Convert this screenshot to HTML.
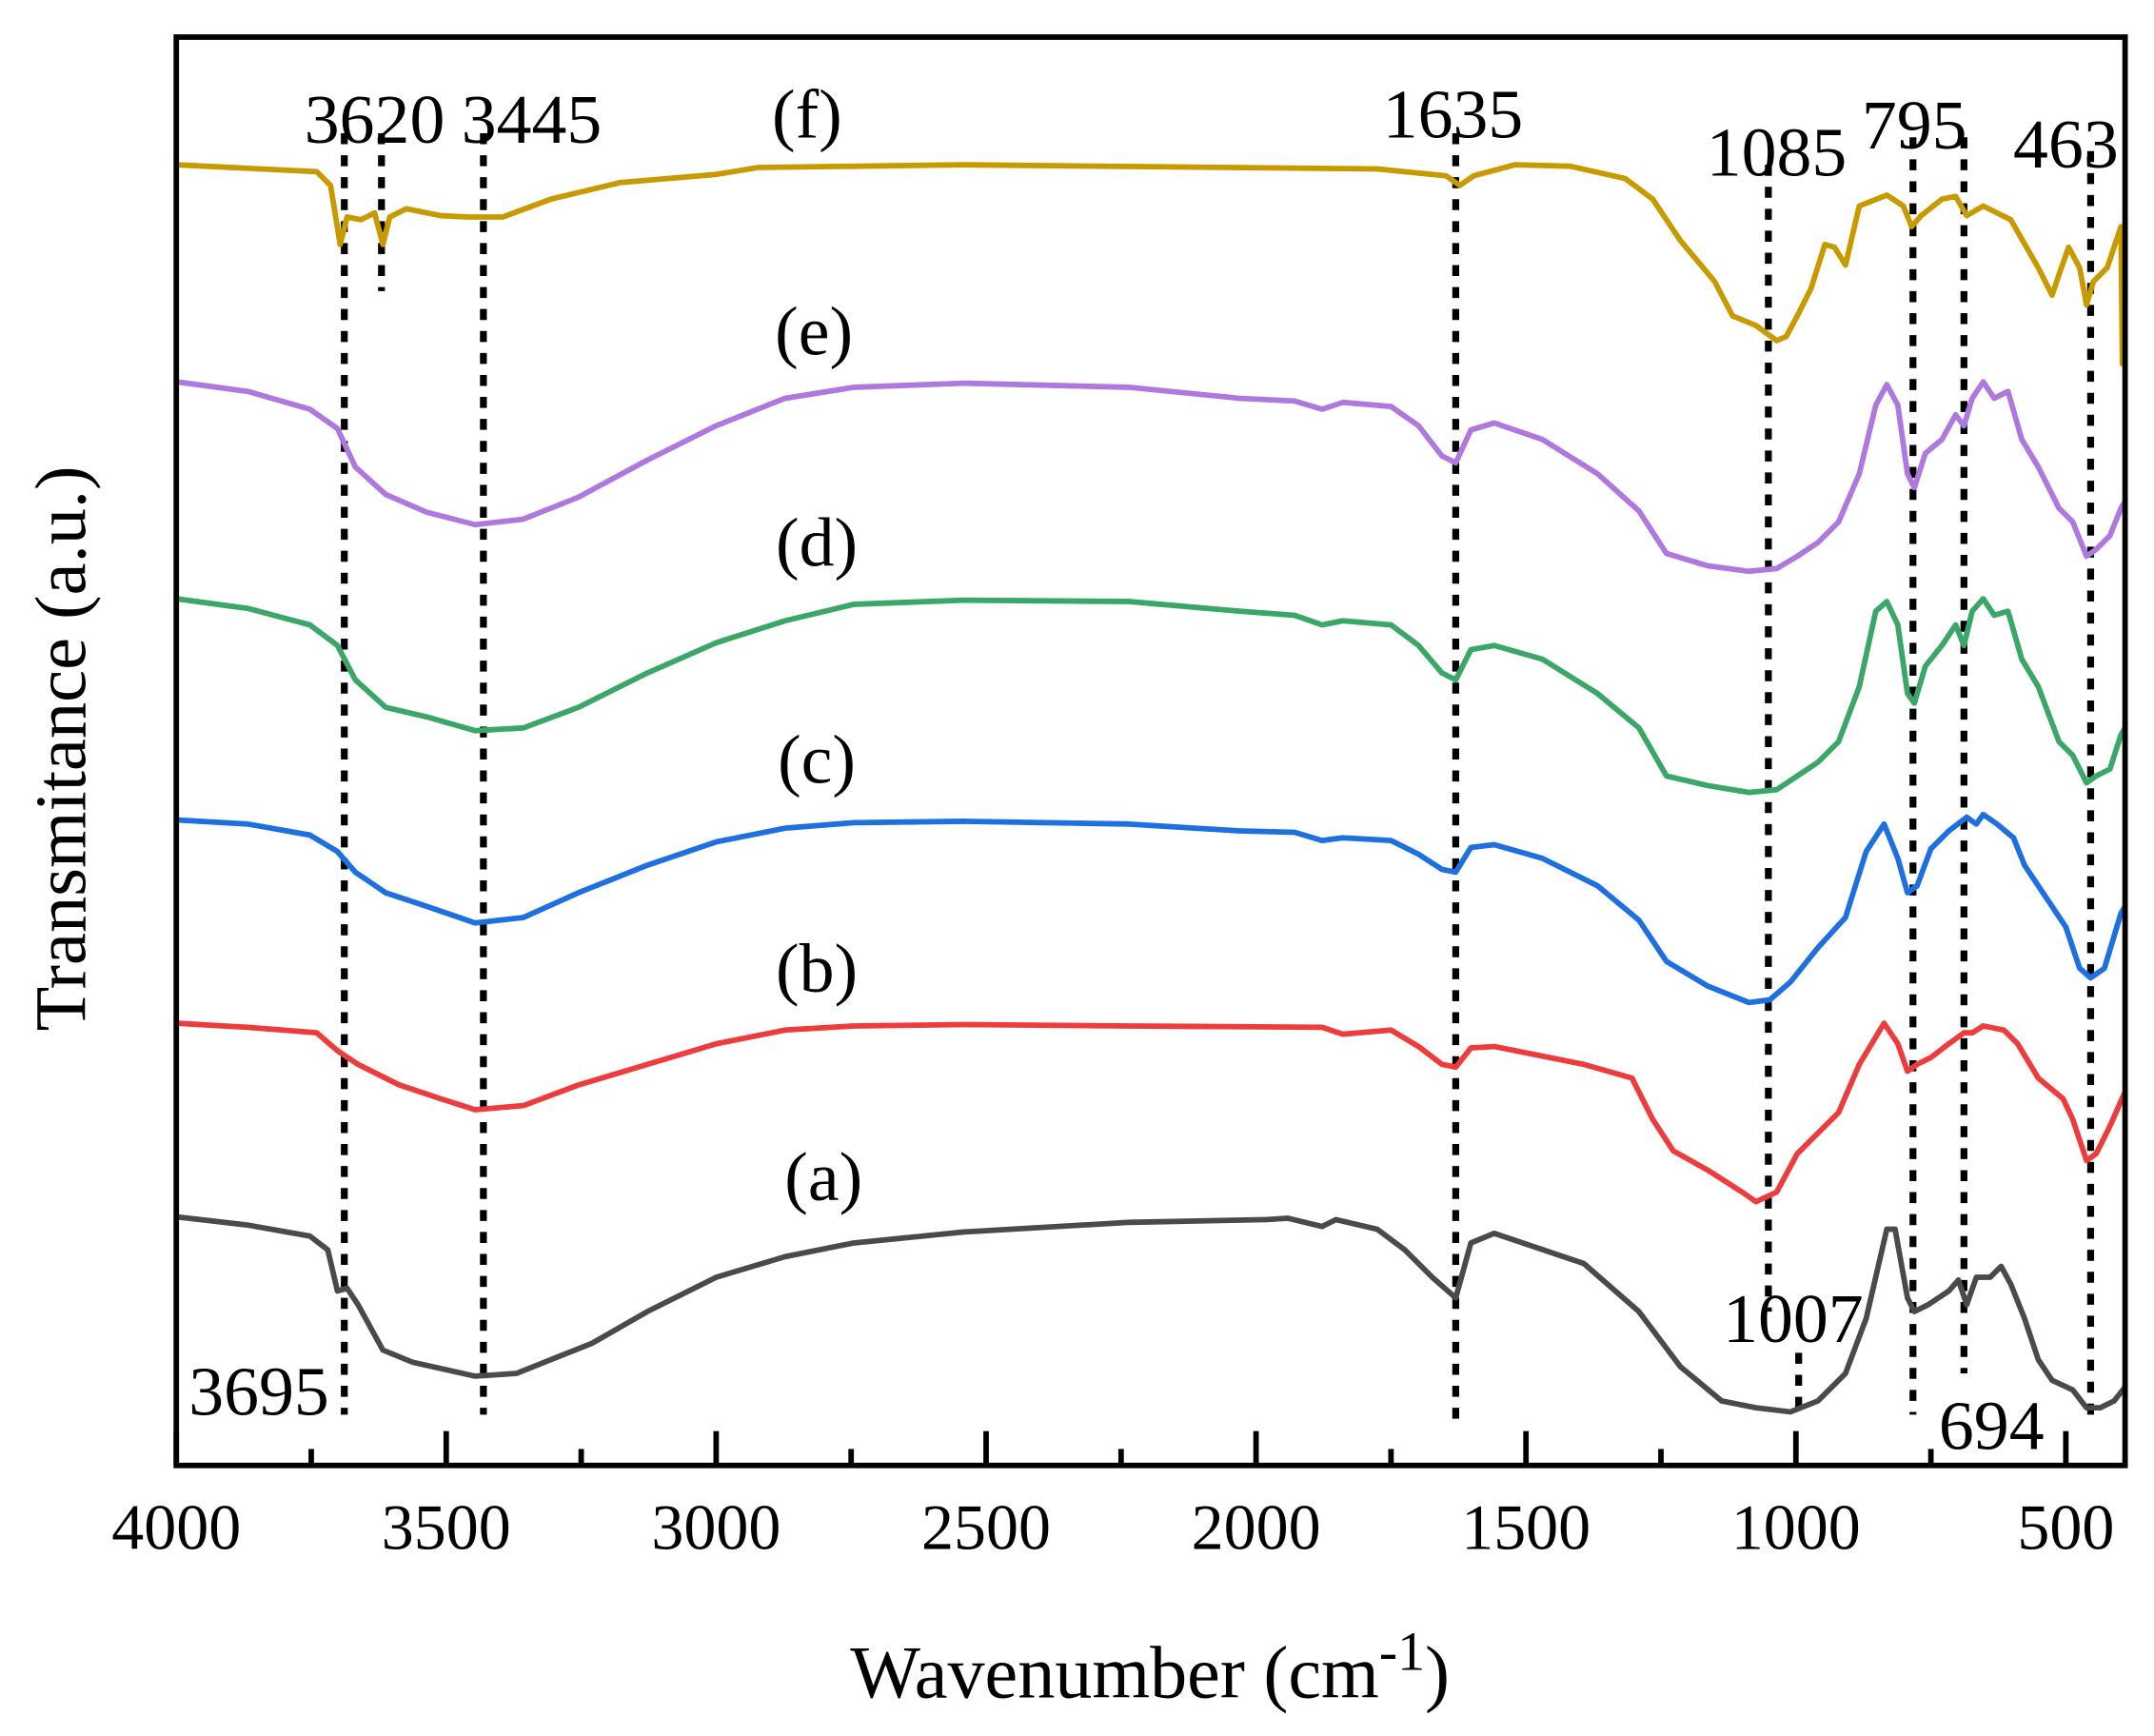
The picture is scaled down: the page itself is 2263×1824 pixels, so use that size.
<!DOCTYPE html>
<html><head><meta charset="utf-8"><style>html,body{margin:0;padding:0;background:#fff}svg{display:block}</style></head>
<body>
<svg width="2263" height="1824" viewBox="0 0 1564 1264" preserveAspectRatio="none" xmlns="http://www.w3.org/2000/svg" font-family="'Liberation Serif', serif">
<rect width="1564" height="1264" fill="#fff"/>
<g stroke="#000" stroke-width="5" stroke-dasharray="8,8" fill="none">
<line x1="250" y1="97" x2="250" y2="1030"/>
<line x1="277" y1="97" x2="277" y2="212"/>
<line x1="351" y1="97" x2="351" y2="1030"/>
<line x1="1057" y1="97" x2="1057" y2="1035"/>
<line x1="1284" y1="120" x2="1284" y2="955"/>
<line x1="1306" y1="985" x2="1306" y2="1032"/>
<line x1="1389" y1="100" x2="1389" y2="1030"/>
<line x1="1426" y1="100" x2="1426" y2="1000"/>
<line x1="1518" y1="110" x2="1518" y2="1030"/>
</g>
<g fill="none" stroke-width="4" stroke-linejoin="round" stroke-linecap="round">
<polyline stroke="#C99A00" points="128,120 230,125 240,135 247,178 252,158 262,160 272,155 278,178 283,158 295,152 320,157 340,158 365,158 400,145 450,133 520,127 550,122 700,120 1000,123 1050,128 1060,135 1070,128 1100,120 1140,121 1180,130 1200,145 1220,175 1245,205 1258,230 1275,237 1290,248 1297,245 1305,230 1315,210 1325,178 1332,180 1340,193 1350,150 1370,142 1382,150 1388,165 1395,157 1410,145 1420,143 1428,157 1440,150 1460,160 1480,195 1490,215 1495,200 1502,180 1510,195 1515,222 1520,205 1530,195 1540,165 1541,265"/>
<polyline stroke="#AE78DE" points="128,278 180,285 225,298 245,312 258,340 280,360 310,373 345,382 380,378 420,362 470,335 520,310 570,290 620,282 700,279 820,282 900,290 940,292 960,298 975,293 1010,296 1030,310 1047,332 1057,337 1068,313 1085,308 1120,320 1160,345 1190,372 1210,403 1240,412 1270,416 1290,414 1305,405 1320,395 1335,380 1350,345 1362,295 1370,280 1378,295 1385,345 1390,355 1398,330 1410,320 1420,302 1426,310 1432,290 1440,278 1448,290 1458,285 1468,320 1480,340 1495,370 1505,380 1515,405 1522,400 1532,390 1540,370 1543,365"/>
<polyline stroke="#3AA668" points="128,436 180,443 225,455 245,470 258,495 280,515 310,522 345,532 380,530 420,515 470,490 520,468 570,452 620,440 700,437 820,438 900,445 940,448 960,455 975,452 1010,455 1030,470 1047,490 1057,495 1068,473 1085,470 1120,480 1160,505 1190,530 1210,565 1240,572 1270,577 1290,575 1305,565 1320,555 1335,540 1350,500 1362,445 1370,438 1378,455 1385,505 1390,512 1398,485 1410,470 1420,455 1426,470 1432,445 1440,436 1448,448 1458,445 1468,480 1480,500 1495,540 1505,550 1515,570 1522,565 1532,560 1540,535 1543,530"/>
<polyline stroke="#1E6FE0" points="128,597 180,600 225,608 245,620 258,635 280,650 310,660 345,672 380,668 420,650 470,630 520,613 570,603 620,599 700,598 820,600 900,605 940,606 960,612 975,610 1010,612 1030,622 1047,633 1057,635 1068,617 1085,615 1120,625 1160,645 1190,670 1210,700 1240,718 1270,730 1285,728 1300,715 1320,690 1340,668 1355,620 1368,600 1378,625 1385,650 1392,645 1402,618 1415,605 1428,595 1435,600 1440,593 1450,600 1462,610 1470,630 1490,660 1500,675 1510,705 1518,712 1528,705 1540,665 1543,660"/>
<polyline stroke="#EE3B3B" points="128,745 180,748 230,752 245,765 260,775 290,790 320,800 345,808 380,805 420,790 470,775 520,760 570,750 620,747 700,746 820,747 960,748 975,753 1010,750 1030,762 1047,775 1057,777 1068,763 1085,762 1150,775 1185,785 1200,815 1215,838 1240,852 1265,868 1275,875 1290,868 1305,840 1320,825 1335,810 1350,775 1368,745 1378,760 1385,780 1392,775 1402,770 1415,760 1426,752 1432,752 1440,747 1455,750 1465,760 1480,785 1498,800 1505,815 1515,845 1522,840 1532,820 1543,795"/>
<polyline stroke="#4A4A4A" points="128,886 180,892 225,900 238,910 245,940 252,938 260,950 278,983 300,992 345,1002 375,1000 400,990 430,978 470,955 520,930 570,915 620,905 700,897 820,890 920,888 935,887 960,893 970,888 1000,895 1020,910 1040,930 1057,945 1068,905 1085,898 1150,920 1190,955 1220,995 1250,1020 1275,1025 1300,1028 1320,1020 1340,1000 1355,960 1370,895 1376,895 1385,945 1390,955 1400,950 1415,940 1422,932 1428,950 1435,930 1445,930 1453,922 1460,935 1470,960 1480,990 1490,1005 1505,1012 1515,1025 1525,1025 1535,1020 1543,1010"/>
</g>
<rect x="128" y="27" width="1415" height="1040" fill="none" stroke="#000" stroke-width="4"/>
<g stroke="#000" stroke-width="4">
<line x1="128" y1="1067" x2="128" y2="1042"/><line x1="226" y1="1067" x2="226" y2="1055"/>
<line x1="324" y1="1067" x2="324" y2="1042"/><line x1="422" y1="1067" x2="422" y2="1055"/>
<line x1="520" y1="1067" x2="520" y2="1042"/><line x1="618" y1="1067" x2="618" y2="1055"/>
<line x1="716" y1="1067" x2="716" y2="1042"/><line x1="814" y1="1067" x2="814" y2="1055"/>
<line x1="912" y1="1067" x2="912" y2="1042"/><line x1="1010" y1="1067" x2="1010" y2="1055"/>
<line x1="1108" y1="1067" x2="1108" y2="1042"/><line x1="1206" y1="1067" x2="1206" y2="1055"/>
<line x1="1304" y1="1067" x2="1304" y2="1042"/><line x1="1402" y1="1067" x2="1402" y2="1055"/>
<line x1="1500" y1="1067" x2="1500" y2="1042"/>
</g>
<g font-size="47" text-anchor="middle" fill="#000">
<text x="128" y="1128">4000</text><text x="324" y="1128">3500</text><text x="520" y="1128">3000</text>
<text x="716" y="1128">2500</text><text x="912" y="1128">2000</text><text x="1108" y="1128">1500</text>
<text x="1304" y="1128">1000</text><text x="1500" y="1128">500</text>
<text x="835" y="1236" font-size="54">Wavenumber (cm<tspan dy="-20" font-size="40">-1</tspan><tspan dy="20">)</tspan></text>
<text transform="translate(62,545) rotate(-90)" font-size="53">Transmitance (a.u.)</text>
</g>
<g font-size="51" text-anchor="middle" fill="#000">
<text x="272" y="104">3620</text><text x="386" y="104">3445</text><text x="1055" y="100">1635</text>
<text x="1290" y="128">1085</text><text x="1390" y="108">795</text><text x="1500" y="122">463</text>
<text x="188" y="1030">3695</text><text x="1302" y="977">1007</text><text x="1446" y="1055">694</text>
<text x="586" y="100">(f)</text><text x="591" y="258">(e)</text><text x="593" y="412">(d)</text>
<text x="593" y="570">(c)</text><text x="593" y="722">(b)</text><text x="598" y="874">(a)</text>
</g>
</svg>
</body></html>
